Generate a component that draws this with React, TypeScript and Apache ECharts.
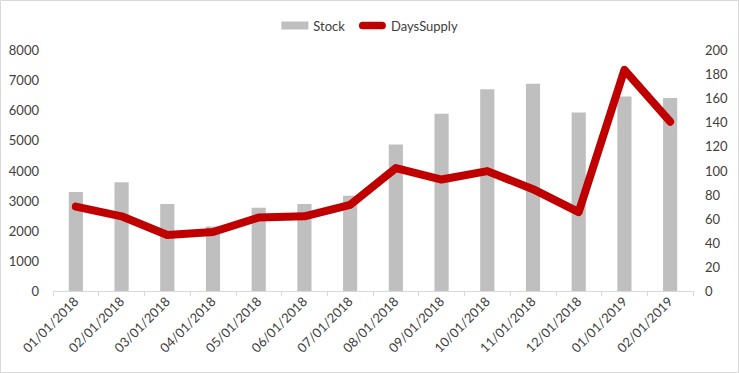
import React, { useEffect, useRef } from "react";
import * as echarts from "echarts";

const categories = [
  "01/01/2018", "02/01/2018", "03/01/2018", "04/01/2018", "05/01/2018", "06/01/2018", "07/01/2018",
  "08/01/2018", "09/01/2018", "10/01/2018", "11/01/2018", "12/01/2018", "01/01/2019", "02/01/2019",
];
const stock = [3290, 3610, 2890, 2140, 2760, 2890, 3160, 4860, 5880, 6700, 6880, 5925, 6455, 6410];
const daysSupply = [70, 62, 46.5, 49, 61, 62, 71.5, 102, 92.5, 99.5, 84.5, 65.5, 183.5, 140.5];

const FONT = "Lato, 'Liberation Sans', sans-serif";
const CAPSULE = "path://M4,0 L24,0 A4,4 0 0 1 24,8 L4,8 A4,4 0 0 1 4,0 Z";

export default function App() {
  const ref = useRef<HTMLDivElement>(null);
  useEffect(() => {
    const chart = echarts.init(ref.current!, null, { renderer: "svg" });
    chart.setOption({
      animation: false,
      textStyle: { fontFamily: FONT },
      graphic: [
        {
          type: "rect",
          shape: { x: 0.5, y: 0.5, width: 738, height: 372 },
          style: { fill: "none", stroke: "#D9D9D9", lineWidth: 1 },
          silent: true,
        },
      ],
      legend: {
        top: 14,
        left: "center",
        itemGap: 14,
        itemWidth: 27,
        itemHeight: 8,
        textStyle: { fontFamily: FONT, fontSize: 13, color: "#404040" },
        data: [
          { name: "Stock", icon: "rect" },
          { name: "DaysSupply", icon: CAPSULE, itemStyle: { color: "#C00000" } },
        ],
      },
      grid: { left: 53, right: 46, top: 50, bottom: 82, containLabel: false },
      xAxis: {
        type: "category",
        data: categories,
        boundaryGap: true,
        axisLine: { show: true, lineStyle: { color: "#D9D9D9", width: 1 } },
        axisTick: { show: true, alignWithLabel: false, length: 5, lineStyle: { color: "#D9D9D9" } },
        axisLabel: {
          interval: 0,
          rotate: 45,
          fontFamily: FONT,
          fontSize: 13,
          color: "#404040",
          margin: 8,
        },
      },
      yAxis: [
        {
          type: "value",
          min: 0,
          max: 8000,
          interval: 1000,
          splitLine: { show: false },
          axisLine: { show: false },
          axisTick: { show: false },
          axisLabel: {
            fontFamily: FONT,
            fontSize: 13,
            color: "#404040",
            margin: 14,
            formatter: (v: number) => String(v),
          },
        },
        {
          type: "value",
          min: 0,
          max: 200,
          interval: 20,
          position: "right",
          splitLine: { show: false },
          axisLine: { show: false },
          axisTick: { show: false },
          axisLabel: {
            fontFamily: FONT,
            fontSize: 13,
            color: "#404040",
            margin: 12,
            formatter: (v: number) => String(v),
          },
        },
      ],
      series: [
        {
          name: "Stock",
          type: "bar",
          data: stock,
          yAxisIndex: 0,
          barWidth: "31%",
          itemStyle: { color: "#BFBFBF" },
        },
        {
          name: "DaysSupply",
          type: "line",
          data: daysSupply,
          yAxisIndex: 1,
          symbol: "none",
          lineStyle: { color: "#C00000", width: 8, cap: "round", join: "round" },
          itemStyle: { color: "#C00000" },
        },
      ],
    });
    return () => chart.dispose();
  }, []);
  return <div ref={ref} style={{ width: 739, height: 373, position: "absolute", left: 0, top: 0 }} />;
}
